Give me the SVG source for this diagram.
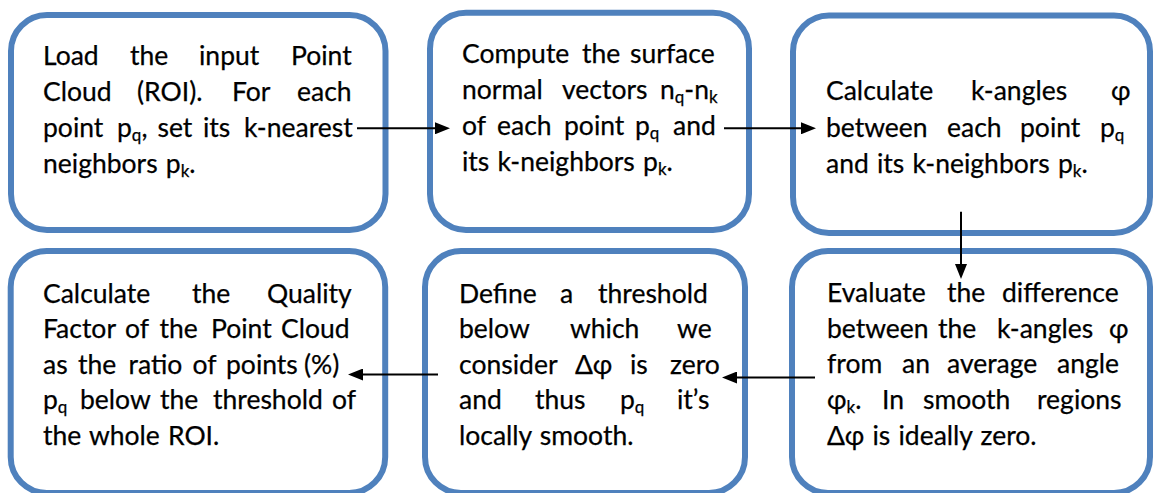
<svg xmlns="http://www.w3.org/2000/svg" width="1153" height="493" viewBox="0 0 1153 493">
  <style>
    .box { fill: #ffffff; stroke: #4f81bd; stroke-width: 6; }
    text { font-family: "Lato", "Liberation Sans", sans-serif; font-size: 26.5px; fill: #000000; stroke: #000000; stroke-width: 0.25px; word-spacing: 1.4px; }
    .s { font-size: 17px; }
    .conn { fill: none; stroke: #000000; stroke-width: 2; marker-end: url(#head); }
  </style>
  <defs>
    <marker id="head" markerUnits="userSpaceOnUse" markerWidth="16" markerHeight="12" refX="2" refY="6" orient="auto">
      <path d="M0,0 L15,6 L0,12 Z" fill="#000000"/>
    </marker>
  </defs>

  <rect width="1153" height="493" fill="#ffffff"/>

  <!-- Step 1: load cloud, find neighbours -->
  <g id="load">
    <rect class="box" x="11" y="15" width="374.5" height="215" rx="36"/>
    <text y="65"><tspan x="43">Load</tspan><tspan x="130">the</tspan><tspan x="199">input</tspan><tspan x="291">Point</tspan></text>
    <text y="101"><tspan x="43">Cloud</tspan><tspan x="137">(ROI).</tspan><tspan x="232">For</tspan><tspan x="297">each</tspan></text>
    <text y="137"><tspan x="43">point</tspan><tspan x="117">p</tspan><tspan class="s" dy="4">q</tspan><tspan dy="-4">,</tspan><tspan x="157.5">set</tspan><tspan x="203">its</tspan><tspan x="244">k-nearest</tspan></text>
    <text x="43" y="173">neighbors p<tspan class="s" dy="4">k</tspan><tspan dy="-4">.</tspan></text>
  </g>

  <!-- Step 2: surface normals -->
  <g id="normals">
    <rect class="box" x="430" y="12.7" width="319" height="217.3" rx="36"/>
    <text y="63"><tspan x="462">Compute</tspan><tspan x="582">the</tspan><tspan x="630">surface</tspan></text>
    <text y="99"><tspan x="462">normal</tspan><tspan x="562">vectors</tspan><tspan x="660">n</tspan><tspan class="s" dy="4">q</tspan><tspan dy="-4">-n</tspan><tspan class="s" dy="4">k</tspan></text>
    <text y="135"><tspan x="462">of</tspan><tspan x="497">each</tspan><tspan x="564">point</tspan><tspan x="635">p</tspan><tspan class="s" dy="4">q</tspan><tspan x="673" dy="-4">and</tspan></text>
    <text x="462" y="171">its k-neighbors p<tspan class="s" dy="4">k</tspan><tspan dy="-4">.</tspan></text>
  </g>

  <!-- Step 3: k-angles -->
  <g id="angles">
    <rect class="box" x="793" y="15.5" width="357" height="217.5" rx="36"/>
    <text y="100"><tspan x="826">Calculate</tspan><tspan x="971">k-angles</tspan><tspan x="1111">φ</tspan></text>
    <text y="137"><tspan x="826">between</tspan><tspan x="947">each</tspan><tspan x="1020">point</tspan><tspan x="1100">p</tspan><tspan class="s" dy="4">q</tspan></text>
    <text x="826" y="173">and its k-neighbors p<tspan class="s" dy="4">k</tspan><tspan dy="-4">.</tspan></text>
  </g>

  <!-- Step 4: angle difference -->
  <g id="difference">
    <rect class="box" x="792" y="251" width="358" height="242" rx="36"/>
    <text y="302"><tspan x="827">Evaluate</tspan><tspan x="947">the</tspan><tspan x="1002">difference</tspan></text>
    <text y="338"><tspan x="827">between</tspan><tspan x="938">the</tspan><tspan x="997">k-angles</tspan><tspan x="1109">φ</tspan></text>
    <text y="373"><tspan x="827">from</tspan><tspan x="902">an</tspan><tspan x="947">average</tspan><tspan x="1057">angle</tspan></text>
    <text y="409"><tspan x="827">φ</tspan><tspan class="s" dy="4">k</tspan><tspan dy="-4">.</tspan><tspan x="882">In</tspan><tspan x="923">smooth</tspan><tspan x="1037">regions</tspan></text>
    <text x="827" y="445">Δφ is ideally zero.</text>
  </g>

  <!-- Step 5: threshold -->
  <g id="threshold">
    <rect class="box" x="425" y="251" width="320" height="242" rx="36"/>
    <text y="303"><tspan x="459">Define</tspan><tspan x="560">a</tspan><tspan x="598">threshold</tspan></text>
    <text y="338"><tspan x="459">below</tspan><tspan x="570">which</tspan><tspan x="677">we</tspan></text>
    <text y="374"><tspan x="459">consider</tspan><tspan x="575">Δφ</tspan><tspan x="630">is</tspan><tspan x="670">zero</tspan></text>
    <text y="409"><tspan x="459">and</tspan><tspan x="535">thus</tspan><tspan x="620">p</tspan><tspan class="s" dy="4">q</tspan><tspan x="677" dy="-4">it’s</tspan></text>
    <text x="459" y="445">locally smooth.</text>
  </g>

  <!-- Step 6: quality factor -->
  <g id="quality">
    <rect class="box" x="10.7" y="251" width="374.5" height="242" rx="36"/>
    <text y="303"><tspan x="43">Calculate</tspan><tspan x="192">the</tspan><tspan x="267">Quality</tspan></text>
    <text y="338"><tspan x="43">Factor</tspan><tspan x="125">of</tspan><tspan x="159.5">the</tspan><tspan x="211">Point</tspan><tspan x="281">Cloud</tspan></text>
    <text y="374"><tspan x="43">as</tspan><tspan x="78">the</tspan><tspan x="128.5">ratio</tspan><tspan x="192.5">of</tspan><tspan x="226">points</tspan><tspan x="304">(%)</tspan></text>
    <text y="409"><tspan x="43">p</tspan><tspan class="s" dy="4">q</tspan><tspan x="80" dy="-4">below</tspan><tspan x="160">the</tspan><tspan x="213">threshold</tspan><tspan x="332">of</tspan></text>
    <text x="43" y="445">the whole ROI.</text>
  </g>

  <!-- Connectors -->
  <g id="connectors">
    <path class="conn" d="M357,128.3 H437"/>
    <path class="conn" d="M724,128.3 H803"/>
    <path class="conn" d="M961,211.7 V266"/>
    <path class="conn" d="M815,377.5 H735"/>
    <path class="conn" d="M438,374.5 H361"/>
  </g>
</svg>
